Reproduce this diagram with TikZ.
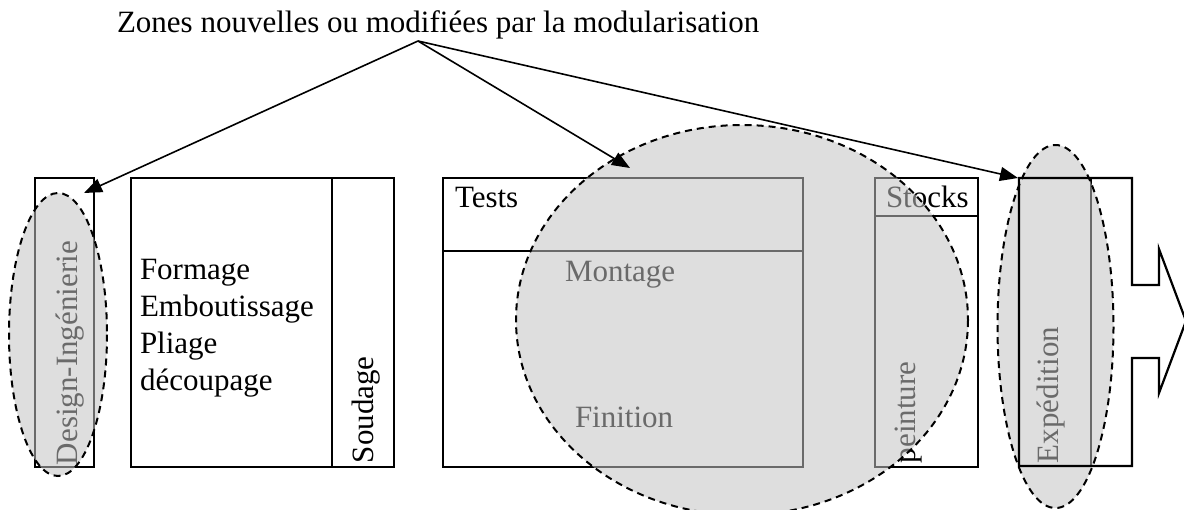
\documentclass[tikz,border=0pt]{standalone}
\usepackage{fontspec}
\setmainfont{Liberation Serif}
\usetikzlibrary{arrows.meta}
\begin{document}
\begin{tikzpicture}[x=1pt,y=-1pt,
  boxline/.style={draw=black,line width=2.2pt},
  lbl/.style={font=\fontsize{31}{37}\selectfont,inner sep=0pt,outer sep=0pt},
  zone/.style={fill=black!24,fill opacity=0.55,draw=none},
  zoneedge/.style={draw=black,line width=2pt,dash pattern=on 7pt off 5pt},
  pointer/.style={draw=black,line width=1.6pt,-{Triangle[length=18pt,width=14pt]}}]
\useasboundingbox (0,0) rectangle (1184,509);

% boxes
\draw[boxline] (35,178) rectangle (94,467);
\draw[boxline] (131,178) rectangle (394,467);
\draw[boxline] (332,178) -- (332,467);
\draw[boxline] (443,178) rectangle (803,467);
\draw[boxline] (443,251) -- (803,251);
\draw[boxline] (875,178) rectangle (978,467);
\draw[boxline] (875,216) -- (978,216);
\draw[draw=black,line width=1.6pt] (1091,178) -- (1091,466);

% texts
\node[lbl,anchor=base west] (formage) at (140,279) {Formage};
\node[lbl,anchor=base west] (embout) at (140,316) {Emboutissage};
\node[lbl,anchor=base west] (pliage) at (140,353) {Pliage};
\node[lbl,anchor=base west] (decoup) at (140,390) {découpage};
\node[lbl,anchor=base west] (tests) at (455,207) {Tests};
\node[lbl,anchor=base west] (montage) at (565,281) {Montage};
\node[lbl,anchor=base west] (finition) at (575,427) {Finition};
\node[lbl,anchor=base west] (stocks) at (886,207) {Stocks};
\node[lbl,rotate=90,anchor=base west] (design) at (77,465) {Design-Ingénierie};
\node[lbl,rotate=90,anchor=base west] (soudage) at (373,463) {Soudage};
\node[lbl,rotate=90,anchor=base west] (peinture) at (915,463) {peinture};
\node[lbl,rotate=90,anchor=base west] (expedition) at (1058,463) {Expédition};

% zones
\path[zone] (58,334.5) ellipse [x radius=49, y radius=141.5];
\path[zone] (742,320) ellipse [x radius=226, y radius=195];
\path[zone] (1055.5,326.5) ellipse [x radius=58, y radius=181.5];
\draw[zoneedge] (58,334.5) ellipse [x radius=49, y radius=141.5];
\draw[zoneedge] (742,320) ellipse [x radius=226, y radius=195];
\draw[zoneedge] (1055.5,326.5) ellipse [x radius=58, y radius=181.5];

% expedition outline with arrow
\draw[boxline,line join=miter] (1019,178) -- (1132,178) -- (1132,285) -- (1159,285) -- (1159,249)
  -- (1186,321) -- (1159,393) -- (1159,358) -- (1132,358) -- (1132,466) -- (1019,466) -- cycle;

% title and pointers
\node[lbl,anchor=base west] (title) at (117,32) {Zones nouvelles ou modifiées par la modularisation};
\coordinate (apex) at (418,41);
\coordinate (tipA) at (84,193);
\coordinate (tipB) at (630,168);
\coordinate (tipC) at (1018,178);
\draw[pointer] (apex) -- (tipA);
\draw[pointer] (apex) -- (tipB);
\draw[pointer] (apex) -- (tipC);
\end{tikzpicture}
\end{document}
